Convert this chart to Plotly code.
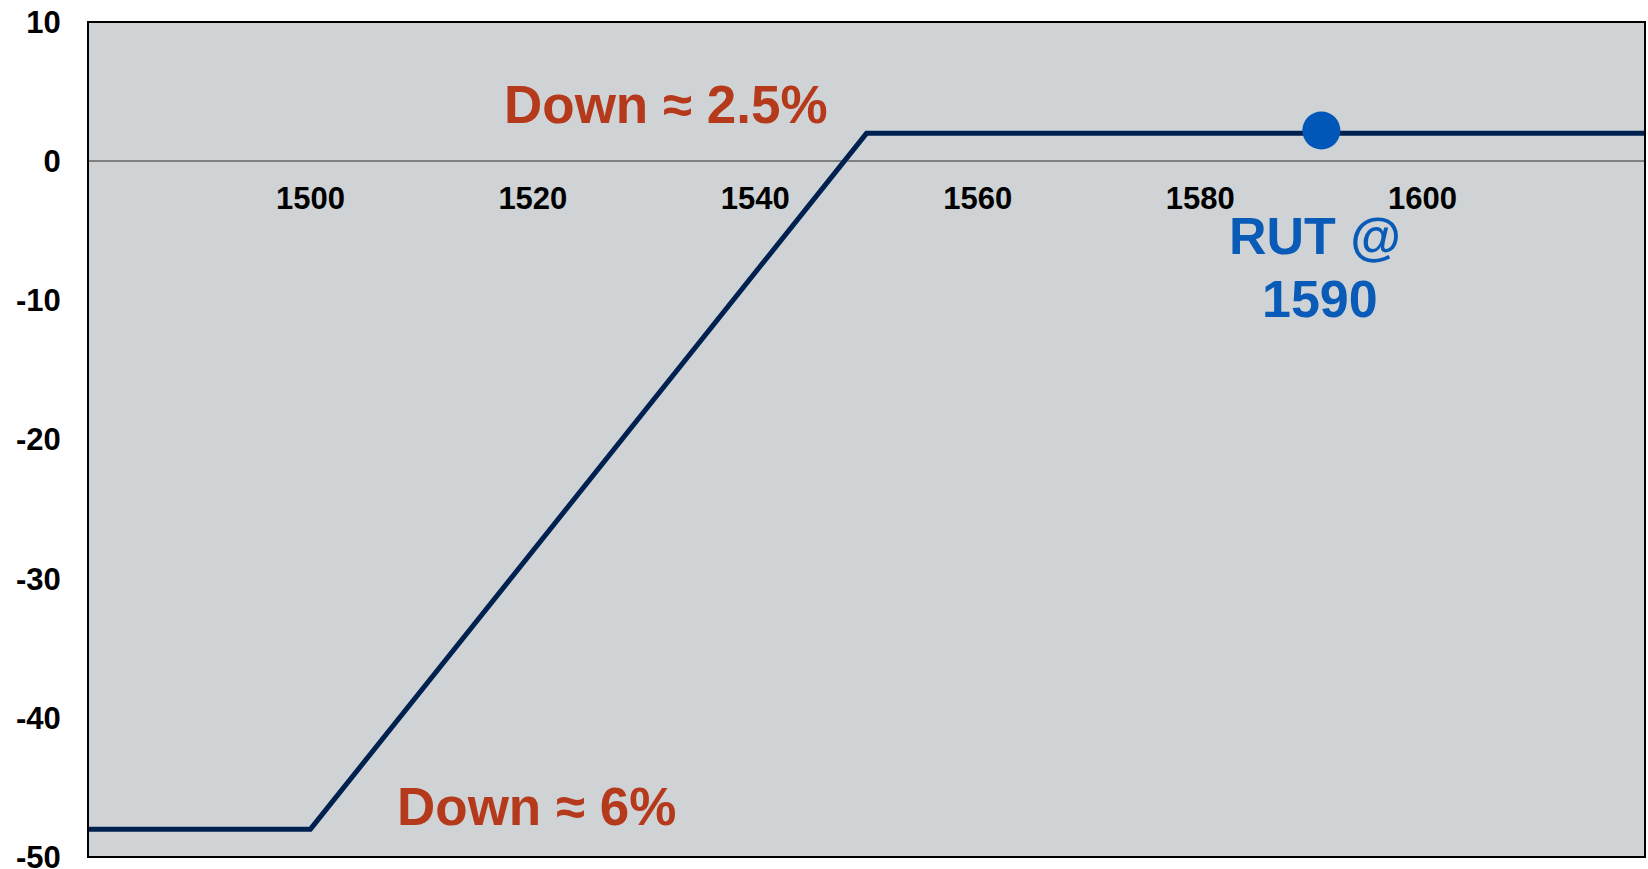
import plotly.graph_objects as go

# Data
payoff_x = [1480, 1500, 1550, 1620]
payoff_y = [-48, -48, 2, 2]
current_x = [1590.9]
current_y = [2.2]
x_ticks = [1500, 1520, 1540, 1560, 1580, 1600]
y_ticks = [10, 0, -10, -20, -30, -40, -50]
y_tick_text = ["10", "0", "-10", "-20", "-30", "-40", "-50"]

FONT = "Arial, Liberation Sans, sans-serif"

fig = go.Figure()
fig.add_trace(go.Scatter(x=payoff_x, y=payoff_y, mode="lines",
                         line=dict(color="#002050", width=5),
                         showlegend=False, hoverinfo="skip"))
fig.add_trace(go.Scatter(x=current_x, y=current_y, mode="markers",
                         marker=dict(color="#0057B8", size=38),
                         showlegend=False))

fig.add_annotation(x=1532.0, y=4.1, text="Down ≈ 2.5%", showarrow=False,
                   font=dict(family=FONT, size=53, color="#B5391B", weight="bold"))
fig.add_annotation(x=1520.3, y=-46.4, text="Down ≈ 6%", showarrow=False,
                   font=dict(family=FONT, size=53, color="#B5391B", weight="bold"))
fig.add_annotation(x=1590.3, y=-5.36, text="RUT @", showarrow=False,
                   font=dict(family=FONT, size=52, color="#0A5BB8", weight="bold"))
fig.add_annotation(x=1590.8, y=-9.92, text="1590", showarrow=False,
                   font=dict(family=FONT, size=52, color="#0A5BB8", weight="bold"))

fig.add_shape(type="rect", xref="paper", yref="paper", x0=0, y0=0, x1=1, y1=1,
              line=dict(color="black", width=2), fillcolor="rgba(0,0,0,0)")

fig.update_layout(
    width=1648, height=869,
    margin=dict(l=88, r=3, t=22, b=12, autoexpand=False),
    paper_bgcolor="white", plot_bgcolor="#CFD3D5",
    font=dict(family=FONT, color="black"),
    xaxis=dict(range=[1480, 1620], tickvals=x_ticks, showgrid=False, zeroline=False,
               showline=False, anchor="free", position=50/60, automargin=False,
               tickfont=dict(size=31, weight="bold", color="black"),
               ticks="outside", ticklen=10, tickcolor="rgba(0,0,0,0)"),
    yaxis=dict(range=[-50, 10], tickvals=y_ticks, ticktext=y_tick_text, showgrid=False,
               zeroline=True, zerolinecolor="#808080", zerolinewidth=2,
               showline=False, ticklabeloverflow="allow", automargin=False,
               tickfont=dict(size=31, weight="bold", color="black"),
               ticks="outside", ticklen=20, tickcolor="rgba(0,0,0,0)"),
)

fig.write_html("out.html")
